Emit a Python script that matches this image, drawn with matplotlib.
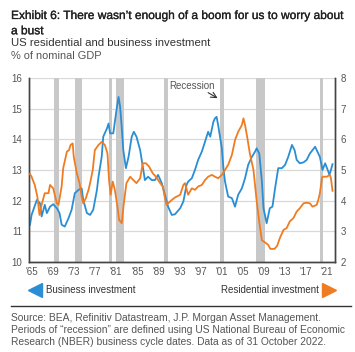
import numpy as np
import matplotlib
matplotlib.use("Agg")
import matplotlib.pyplot as plt
import matplotlib.patheffects as pe
from matplotlib.lines import Line2D

plt.rcParams['font.family'] = ['Liberation Sans', 'DejaVu Sans']

# --- data ---
# business investment, % of nominal GDP (left axis)
bus_years = [1965.0, 1965.3, 1966.3, 1966.9, 1967.2, 1967.8, 1968.2, 1968.8, 1969.4, 1970.1,
             1970.6, 1971.0, 1971.6, 1972.3, 1972.9, 1973.5, 1974.2, 1974.8, 1975.1, 1975.8,
             1976.4, 1977.0, 1977.7, 1978.0, 1978.6, 1978.9, 1979.6, 1979.9, 1980.2, 1980.8,
             1981.5, 1981.8, 1982.1, 1982.4, 1982.7, 1983.2, 1983.7, 1984.3, 1984.7, 1985.2,
             1985.9, 1986.4, 1986.8, 1987.4, 1988.1, 1988.7, 1989.3, 1990.0, 1990.6, 1991.2,
             1991.9, 1992.5, 1993.5, 1994.1, 1994.7, 1995.0, 1995.7, 1996.3, 1996.9, 1997.6,
             1998.2, 1998.8, 1999.2, 1999.8, 2000.1, 2000.4, 2000.7, 2001.4, 2001.7, 2002.0,
             2002.6, 2003.3, 2003.9, 2004.5, 2005.2, 2005.8, 2006.4, 2007.1, 2007.7, 2008.0,
             2008.5, 2009.0, 2009.3, 2009.9, 2010.5, 2011.0, 2011.5, 2012.1, 2012.8, 2013.4,
             2014.0, 2014.7, 2015.2, 2015.6, 2016.2, 2016.9, 2017.5, 2018.1, 2019.1, 2019.4,
             2020.0, 2020.5, 2021.0, 2021.6, 2021.8, 2022.1, 2022.4]
bus_vals = [11.21, 11.53, 12.02, 11.91, 11.48, 11.86, 11.59, 11.80, 11.88, 11.75,
            11.59, 11.21, 11.15, 11.42, 11.70, 12.24, 12.35, 12.40, 12.02, 11.59,
            11.53, 11.70, 12.35, 12.78, 13.43, 14.09, 14.36, 14.52, 14.20, 14.20,
            15.07, 15.39, 15.07, 14.41, 13.65, 13.06, 13.43, 14.09, 14.25, 14.09,
            13.65, 13.11, 12.67, 12.78, 12.67, 12.67, 12.84, 12.57, 12.19, 11.80,
            11.53, 11.55, 11.75, 11.97, 12.51, 12.62, 12.73, 13.00, 13.33, 13.60,
            13.92, 14.25, 14.09, 14.58, 14.69, 14.74, 14.47, 13.71, 13.06, 12.62,
            12.13, 12.08, 11.80, 12.19, 12.40, 12.73, 13.17, 13.43, 13.60, 13.71,
            13.54, 12.62, 11.75, 11.26, 11.75, 11.80, 12.40, 13.06, 13.06, 13.17,
            13.43, 13.82, 13.65, 13.33, 13.22, 13.25, 13.33, 13.54, 13.76, 13.65,
            13.43, 13.00, 13.22, 12.95, 12.84, 13.00, 13.19]

# residential investment, % of nominal GDP (right axis)
res_years = [1965.0, 1965.3, 1965.9, 1966.4, 1966.8, 1967.2, 1967.8, 1968.5, 1968.8, 1969.4,
             1970.1, 1970.4, 1971.0, 1971.3, 1972.0, 1972.4, 1972.7, 1973.1, 1973.3, 1973.9,
             1974.4, 1974.8, 1975.1, 1975.6, 1976.1, 1976.4, 1976.9, 1977.3, 1978.0, 1978.6,
             1979.2, 1979.7, 1980.0, 1980.3, 1980.7, 1981.1, 1981.6, 1981.9, 1982.4, 1982.8,
             1983.3, 1984.0, 1984.6, 1985.2, 1985.9, 1986.4, 1987.0, 1987.6, 1988.3, 1988.9,
             1989.5, 1990.2, 1990.6, 1990.9, 1991.2, 1991.9, 1992.5, 1993.5, 1994.1, 1994.4,
             1995.0, 1995.7, 1996.3, 1996.9, 1997.6, 1998.2, 1998.8, 1999.5, 2000.1, 2000.7,
             2001.4, 2002.0, 2002.6, 2003.3, 2003.9, 2004.5, 2005.2, 2005.5, 2005.8, 2006.2,
             2006.7, 2007.4, 2008.0, 2008.5, 2009.0, 2009.6, 2010.2, 2010.6, 2011.4, 2011.9,
             2012.4, 2013.1, 2013.7, 2014.3, 2015.0, 2015.6, 2016.2, 2016.9, 2017.5, 2018.1,
             2018.6, 2019.4, 2019.7, 2020.0, 2020.4, 2020.5, 2021.3, 2021.9, 2022.1, 2022.4]
res_vals = [4.87, 4.78, 4.51, 4.13, 3.53, 3.86, 4.24, 4.24, 4.51, 4.40,
            3.91, 3.86, 4.46, 5.06, 5.60, 5.65, 5.82, 5.87, 5.43, 4.89,
            4.57, 4.13, 3.91, 4.08, 4.35, 4.57, 5.00, 5.65, 5.82, 5.92,
            5.82, 5.54, 4.67, 4.19, 4.62, 4.35, 3.80, 3.37, 3.26, 3.91,
            4.57, 4.78, 4.67, 4.57, 4.73, 5.22, 5.22, 5.11, 4.89, 4.78,
            4.62, 4.46, 4.08, 3.86, 3.91, 4.02, 4.10, 4.19, 4.51, 4.57,
            4.19, 4.40, 4.35, 4.46, 4.51, 4.67, 4.78, 4.84, 4.78, 4.73,
            4.84, 5.00, 5.17, 5.49, 5.98, 6.25, 6.47, 6.69, 6.47, 6.09,
            5.55, 5.00, 4.00, 3.30, 2.70, 2.63, 2.55, 2.42, 2.42, 2.52,
            2.77, 3.04, 3.10, 3.32, 3.43, 3.64, 3.75, 3.91, 3.93, 3.91,
            3.80, 3.86, 4.02, 4.24, 4.73, 4.78, 4.78, 4.84, 4.73, 4.32]

# NBER recessions (start, end)
recessions = [(1969.6, 1970.5), (1973.55, 1974.8), (1980.0, 1980.5), (1981.35, 1982.85),
              (1990.45, 1991.15), (2001.05, 2001.85), (2007.9, 2009.6), (2019.95, 2020.5)]

tick_years = list(range(1965, 2022, 4))
tick_labels = ["'%02d" % (y % 100) for y in tick_years]

blue = '#2a8ed4'
orange = '#f07c22'
grey_txt = '#555555'
dark_txt = '#333333'

fig = plt.figure(figsize=(3.55, 3.52), dpi=100)
W, H = 355, 352

def fx(px):
    return px / W

def fy(py):
    return 1 - py / H

ax = fig.add_axes([fx(29), fy(261.7), fx(335) - fx(29), fy(78.3) - fy(261.7)])
ax2 = ax.twinx()

# bands and grid sit on the lower axes, so both lines draw over them
for s, e in recessions:
    ax.axvspan(s, e, color='#c8c8c8', lw=0, zorder=1)

ax.plot(bus_years, bus_vals, color=blue, lw=1.3, zorder=3)
ax2.plot(res_years, res_vals, color=orange, lw=1.3, zorder=3)

ax.set_xlim(1964.81, 2022.87)
ax.set_ylim(10, 16)
ax2.set_ylim(2, 8)
ax.set_yticks(range(10, 17))
ax2.set_yticks(range(2, 9))
ax.set_xticks([y + 0.35 for y in tick_years])
ax.set_xticklabels(tick_labels)
ax.yaxis.grid(True, color='#d9d9d9', lw=0.9, zorder=0)
ax.set_axisbelow(True)

for a in (ax, ax2):
    a.tick_params(length=0, labelsize=7, colors=grey_txt)
    a.spines['top'].set_visible(False)
    for side in ('left', 'right', 'bottom'):
        a.spines[side].set_color('#444444')
        a.spines[side].set_linewidth(1.0)
ax.tick_params(axis='y', pad=5)
ax.tick_params(axis='x', pad=4)
ax2.tick_params(axis='y', pad=4)

# recession note
ax.text(1995.8, 15.76, 'Recession', fontsize=7, color=grey_txt, ha='center', va='center')
ax.annotate('', xy=(2000.6, 15.35), xytext=(1998.8, 15.53),
            arrowprops=dict(arrowstyle='->', color='#333333', lw=0.8,
                            shrinkA=0, shrinkB=0))

# titles
heavy = [pe.withStroke(linewidth=0.2, foreground='#222222')]
fig.text(fx(11), fy(19), "Exhibit 6: There wasn\u2019t enough of a boom for us to worry about",
         fontsize=8.6, color='#222222', va='baseline', path_effects=heavy)
fig.text(fx(11), fy(34.3), "a bust", fontsize=8.6, color='#222222', va='baseline',
         path_effects=heavy)
fig.text(fx(11), fy(46.5), "US residential and business investment", fontsize=8.2,
         color=dark_txt, va='baseline')
fig.text(fx(11), fy(59), "% of nominal GDP", fontsize=7.9, color=grey_txt, va='baseline')

# legend
fig.add_artist(Line2D([fx(35)], [fy(290)], marker='<', markersize=10, color=blue,
                      transform=fig.transFigure, lw=0))
fig.text(fx(46), fy(290), "Business investment", fontsize=7.0, color=dark_txt, va='center')
fig.add_artist(Line2D([fx(329)], [fy(290)], marker='>', markersize=10, color=orange,
                      transform=fig.transFigure, lw=0))
fig.text(fx(319), fy(290), "Residential investment", fontsize=7.0, color=dark_txt,
         va='center', ha='right')

fig.add_artist(Line2D([fx(11), fx(351)], [fy(306), fy(306)], color='#333333', lw=1.0,
                      transform=fig.transFigure))

source = ("Source: BEA, Refinitiv Datastream, J.P. Morgan Asset Management.\n"
          "Periods of \u201crecession\u201d are defined using US National Bureau of Economic\n"
          "Research (NBER) business cycle dates. Data as of 31 October 2022.")
fig.text(fx(11), fy(313), source, fontsize=7.4, color=grey_txt, va='top', linespacing=1.28)

fig.savefig('out.png', dpi=100)
